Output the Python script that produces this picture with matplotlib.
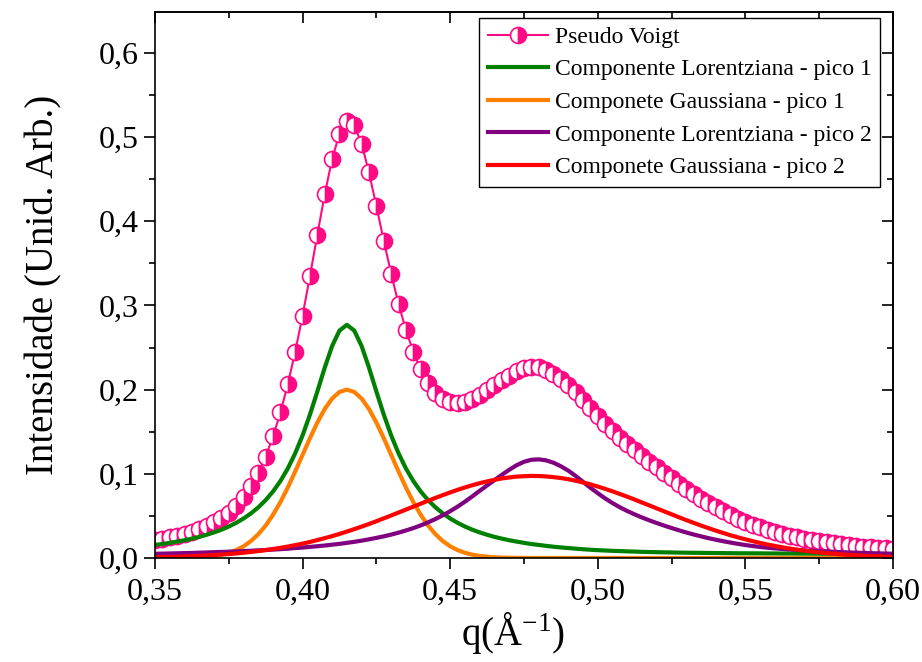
import numpy as np
import matplotlib.pyplot as plt
from matplotlib.ticker import MultipleLocator

plt.rcParams['font.family'] = ['Liberation Serif', 'DejaVu Serif']
plt.rcParams['mathtext.fontset'] = 'custom'
plt.rcParams['mathtext.rm'] = 'Liberation Serif'
plt.rcParams['mathtext.it'] = 'Liberation Serif:italic'

# q grid (step 0.0025) shared by the fitted components and the pseudo-Voigt points
q = np.linspace(0.35, 0.60, 101)

lorentz_1 = [0.0155, 0.0166, 0.0180, 0.0195, 0.0211, 0.0230, 0.0251, 0.0276, 0.0304, 0.0336,
             0.0374, 0.0418, 0.0469, 0.0530, 0.0602, 0.0688, 0.0791, 0.0915, 0.1064, 0.1244,
             0.1457, 0.1704, 0.1978, 0.2261, 0.2518, 0.2702, 0.2770, 0.2702, 0.2518, 0.2261,
             0.1978, 0.1704, 0.1457, 0.1244, 0.1064, 0.0915, 0.0791, 0.0688, 0.0602, 0.0530,
             0.0469, 0.0418, 0.0374, 0.0336, 0.0304, 0.0276, 0.0251, 0.0230, 0.0211, 0.0195,
             0.0180, 0.0166, 0.0155, 0.0144, 0.0134, 0.0126, 0.0118, 0.0111, 0.0104, 0.0098,
             0.0093, 0.0089, 0.0085, 0.0082, 0.0079, 0.0076, 0.0073, 0.0071, 0.0069, 0.0067,
             0.0066, 0.0064, 0.0063, 0.0062, 0.0061, 0.0060, 0.0059, 0.0058, 0.0057, 0.0056,
             0.0056, 0.0055, 0.0055, 0.0054, 0.0054, 0.0053, 0.0053, 0.0052, 0.0052, 0.0051,
             0.0051, 0.0050, 0.0050, 0.0050, 0.0049, 0.0049, 0.0049, 0.0048, 0.0048, 0.0048,
             0.0048]
gauss_1 = [0.0000, 0.0000, 0.0001, 0.0002, 0.0003, 0.0005, 0.0009, 0.0015, 0.0025, 0.0039,
           0.0062, 0.0094, 0.0139, 0.0201, 0.0283, 0.0386, 0.0514, 0.0665, 0.0838, 0.1028,
           0.1226, 0.1424, 0.1609, 0.1770, 0.1894, 0.1973, 0.2000, 0.1973, 0.1894, 0.1770,
           0.1609, 0.1424, 0.1226, 0.1028, 0.0838, 0.0665, 0.0514, 0.0386, 0.0283, 0.0201,
           0.0139, 0.0094, 0.0062, 0.0039, 0.0025, 0.0015, 0.0009, 0.0005, 0.0003, 0.0002,
           0.0001] + [0.0] * 50
lorentz_2 = [0.0050, 0.0052, 0.0054, 0.0056, 0.0058, 0.0060, 0.0063, 0.0066, 0.0069, 0.0072,
             0.0075, 0.0078, 0.0082, 0.0086, 0.0091, 0.0095, 0.0100, 0.0105, 0.0111, 0.0118,
             0.0124, 0.0132, 0.0140, 0.0148, 0.0158, 0.0168, 0.0180, 0.0192, 0.0206, 0.0222,
             0.0239, 0.0257, 0.0278, 0.0301, 0.0327, 0.0355, 0.0387, 0.0423, 0.0463, 0.0507,
             0.0556, 0.0610, 0.0669, 0.0732, 0.0798, 0.0862, 0.0925, 0.0988, 0.1048, 0.1102,
             0.1143, 0.1167, 0.1172, 0.1160, 0.1132, 0.1090, 0.1038, 0.0975, 0.0905, 0.0835,
             0.0770, 0.0708, 0.0652, 0.0602, 0.0558, 0.0518, 0.0481, 0.0447, 0.0415, 0.0385,
             0.0356, 0.0329, 0.0303, 0.0279, 0.0257, 0.0236, 0.0217, 0.0199, 0.0183, 0.0168,
             0.0154, 0.0142, 0.0131, 0.0122, 0.0114, 0.0107, 0.0101, 0.0095, 0.0090, 0.0085,
             0.0081, 0.0077, 0.0073, 0.0069, 0.0066, 0.0063, 0.0060, 0.0057, 0.0055, 0.0052,
             0.0050]
gauss_2 = [0.0009, 0.0011, 0.0013, 0.0015, 0.0018, 0.0022, 0.0025, 0.0030, 0.0035, 0.0041,
           0.0047, 0.0054, 0.0063, 0.0072, 0.0082, 0.0094, 0.0107, 0.0121, 0.0136, 0.0153,
           0.0171, 0.0191, 0.0213, 0.0236, 0.0260, 0.0286, 0.0314, 0.0343, 0.0373, 0.0404,
           0.0437, 0.0471, 0.0505, 0.0540, 0.0575, 0.0610, 0.0645, 0.0680, 0.0714, 0.0747,
           0.0779, 0.0810, 0.0838, 0.0865, 0.0889, 0.0910, 0.0929, 0.0945, 0.0957, 0.0967,
           0.0972, 0.0975, 0.0974, 0.0969, 0.0961, 0.0950, 0.0936, 0.0918, 0.0898, 0.0875,
           0.0849, 0.0821, 0.0792, 0.0760, 0.0728, 0.0694, 0.0659, 0.0624, 0.0589, 0.0554,
           0.0519, 0.0484, 0.0450, 0.0417, 0.0385, 0.0355, 0.0325, 0.0297, 0.0270, 0.0245,
           0.0222, 0.0200, 0.0179, 0.0160, 0.0143, 0.0127, 0.0112, 0.0099, 0.0087, 0.0076,
           0.0066, 0.0058, 0.0050, 0.0043, 0.0037, 0.0032, 0.0027, 0.0023, 0.0020, 0.0016,
           0.0014]
pseudo_voigt = [0.0214, 0.0228, 0.0246, 0.0265, 0.0287, 0.0312, 0.0342, 0.0378, 0.0422, 0.0474,
                0.0539, 0.0620, 0.0722, 0.0850, 0.1010, 0.1205, 0.1445, 0.1730, 0.2065, 0.2450,
                0.2880, 0.3350, 0.3840, 0.4320, 0.4740, 0.5040, 0.5190, 0.5140, 0.4920, 0.4580,
                0.4180, 0.3770, 0.3380, 0.3020, 0.2710, 0.2450, 0.2240, 0.2080, 0.1965, 0.1890,
                0.1850, 0.1840, 0.1850, 0.1885, 0.1935, 0.1990, 0.2050, 0.2110, 0.2165, 0.2220,
                0.2255, 0.2270, 0.2265, 0.2235, 0.2190, 0.2130, 0.2060, 0.1975, 0.1880, 0.1785,
                0.1685, 0.1595, 0.1510, 0.1430, 0.1355, 0.1285, 0.1215, 0.1145, 0.1078, 0.1010,
                0.0945, 0.0880, 0.0818, 0.0760, 0.0705, 0.0652, 0.0601, 0.0554, 0.0510, 0.0469,
                0.0431, 0.0396, 0.0364, 0.0335, 0.0309, 0.0285, 0.0264, 0.0245, 0.0228, 0.0212,
                0.0198, 0.0185, 0.0173, 0.0162, 0.0152, 0.0143, 0.0135, 0.0128, 0.0121, 0.0116,
                0.0110]

xticks = [0.35, 0.40, 0.45, 0.50, 0.55, 0.60]
xtick_labels = ['0,35', '0,40', '0,45', '0,50', '0,55', '0,60']
yticks = [0.0, 0.1, 0.2, 0.3, 0.4, 0.5, 0.6]
ytick_labels = ['0,0', '0,1', '0,2', '0,3', '0,4', '0,5', '0,6']

pink = '#FF0A84'

fig = plt.figure(figsize=(9.22, 6.62), dpi=100)
ax = fig.add_axes([0.1681, 0.1571, 0.8004, 0.8248])

ax.plot(q, pseudo_voigt, '-o', color=pink, lw=1.5, ms=11.5, fillstyle='right',
        mfc=pink, mfcalt='white', mec=pink, mew=1.2, label='Pseudo Voigt')
ax.plot(q, lorentz_1, color='#008000', lw=3, label='Componente Lorentziana - pico 1')
ax.plot(q, gauss_1, color='#FF8000', lw=3, label='Componete Gaussiana - pico 1')
ax.plot(q, lorentz_2, color='#800080', lw=3, label='Componente Lorentziana - pico 2')
ax.plot(q, gauss_2, color='#FF0000', lw=3, label='Componete Gaussiana - pico 2')

ax.set_xlim(0.35, 0.60)
ax.set_ylim(0, 0.6487)
ax.set_xticks(xticks)
ax.set_xticklabels(xtick_labels)
ax.set_yticks(yticks)
ax.set_yticklabels(ytick_labels)
ax.xaxis.set_minor_locator(MultipleLocator(0.025))
ax.yaxis.set_minor_locator(MultipleLocator(0.05))
ax.tick_params(which='both', direction='out', width=1.2, labelsize=23, top=False, right=False)
ax.tick_params(which='major', length=8)
ax.tick_params(which='minor', length=4.5)
ax.tick_params(axis='x', which='major', pad=6)

# top and right axes carry inward ticks without labels
sec_x = ax.secondary_xaxis('top')
sec_x.set_xticks(xticks)
sec_x.xaxis.set_minor_locator(MultipleLocator(0.025))
sec_x.tick_params(which='both', direction='in', width=1.2, labeltop=False)
sec_x.tick_params(which='major', length=8)
sec_x.tick_params(which='minor', length=4.5)
sec_y = ax.secondary_yaxis('right')
sec_y.set_yticks(yticks)
sec_y.yaxis.set_minor_locator(MultipleLocator(0.05))
sec_y.tick_params(which='both', direction='in', width=1.2, labelright=False)
sec_y.tick_params(which='major', length=8)
sec_y.tick_params(which='minor', length=4.5)

for s in list(ax.spines.values()) + [sec_x.spines['top'], sec_y.spines['right']]:
    s.set_linewidth(1.2)

ax.set_xlabel('q(Å$^{-1}$)', fontsize=28)
ax.xaxis.set_label_coords(0.485, -0.095)
ax.set_ylabel('Intensidade (Unid. Arb.)', fontsize=28, labelpad=26)

leg = ax.legend(loc='upper right', bbox_to_anchor=(0.9824, 0.989), fontsize=17, numpoints=1,
                handlelength=2.55, handletextpad=0.3, labelspacing=0.47, borderpad=0.35,
                borderaxespad=0.0, fancybox=False, edgecolor='black', framealpha=1)
leg.get_frame().set_linewidth(1.0)

fig.savefig('out.png', dpi=100)
